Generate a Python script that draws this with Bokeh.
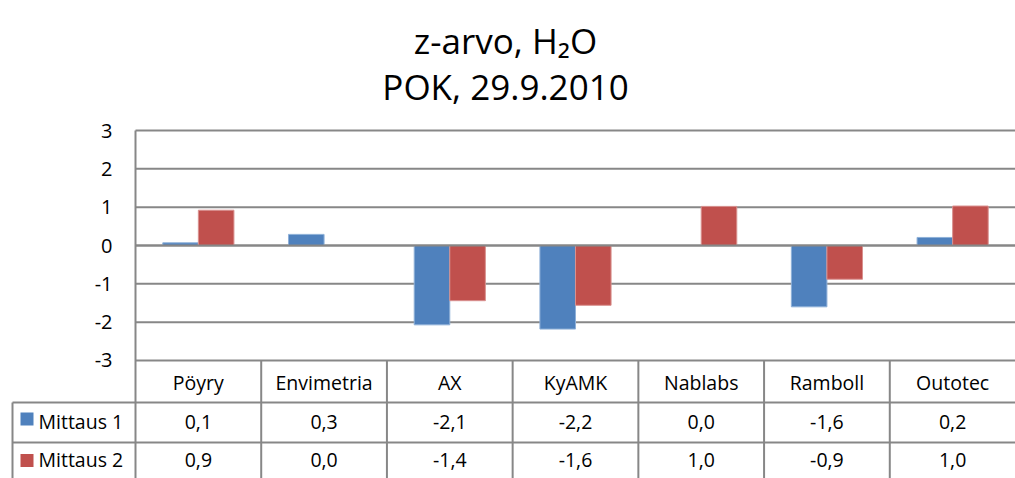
from bokeh.plotting import figure
from bokeh.models import ColumnDataSource, Range1d
from bokeh.core.properties import value
from bokeh.embed import file_html
from bokeh.resources import INLINE
import numpy as np

# ---- data ----
categories = ["Pöyry", "Envimetria", "AX", "KyAMK", "Nablabs", "Ramboll", "Outotec"]
mittaus1 = [0.07, 0.29, -2.07, -2.18, 0.0, -1.6, 0.21]
mittaus2 = [0.92, 0.0, -1.44, -1.56, 1.02, -0.88, 1.03]
series_names = ["Mittaus 1", "Mittaus 2"]
y_ticks = [3, 2, 1, 0, -1, -2, -3]
title_lines = ["z-arvo, H\u2082O", "POK, 29.9.2010"]

# ---- styling / layout ----
BLUE = "#4F81BD"
RED = "#C0504D"
GRID = "#878787"
FONT = value("Open Sans")

W, H = 1015, 478
PX_X = 125.714          # pixels per category
PX_Y = 38.333           # pixels per unit
X0_PAGE, Y0_PAGE = 135, 245   # page position of x=0, y=0

def xd(px):
    return (px - X0_PAGE) / PX_X

def yd(py):
    return (Y0_PAGE - py) / PX_Y

p = figure(width=W, height=H, output_backend="svg", toolbar_location=None,
           x_range=Range1d(xd(0), xd(W)), y_range=Range1d(yd(H), yd(0)),
           min_border=0)
p.axis.visible = False
p.grid.visible = False
p.outline_line_color = None
p.background_fill_color = "white"
p.border_fill_color = "white"

n = len(categories)
idx = np.arange(n)
ymin, ymax = min(y_ticks), max(y_ticks)

# gridlines
for t in y_ticks:
    p.line([0, n + 1], [t, t], line_color=GRID, line_width=2)

# bars
bw = 0.283
src = ColumnDataSource(dict(x1=idx + 0.5 - bw / 2, x2=idx + 0.5 + bw / 2,
                            m1=mittaus1, m2=mittaus2))
p.vbar(x="x1", top="m1", bottom=0, width=bw, source=src,
       fill_color=BLUE, line_color="#8EB0D8", line_width=1)
p.vbar(x="x2", top="m2", bottom=0, width=bw, source=src,
       fill_color=RED, line_color="#D9918F", line_width=1)

# redraw zero line over bars
p.line([0, n + 1], [0, 0], line_color=GRID, line_width=2)

# table geometry
row1_top = ymin
row2_top = yd(402)
row3_top = yd(442)
tbl_bottom = yd(H + 20)
legend_left = xd(12)

# vertical lines
p.segment(x0=[0], y0=[ymax], x1=[0], y1=[tbl_bottom], line_color=GRID, line_width=2)
p.segment(x0=list(idx[1:]), y0=[row1_top] * (n - 1), x1=list(idx[1:]),
          y1=[tbl_bottom] * (n - 1), line_color=GRID, line_width=2)
p.segment(x0=[legend_left], y0=[row2_top], x1=[legend_left], y1=[tbl_bottom],
          line_color=GRID, line_width=2)
# horizontal lines
p.segment(x0=[legend_left, legend_left], y0=[row2_top, row3_top],
          x1=[n + 1, n + 1], y1=[row2_top, row3_top], line_color=GRID, line_width=2)

# y tick labels
p.text(x=[xd(112)] * len(y_ticks), y=y_ticks, text=[str(t) for t in y_ticks],
       text_font=FONT, text_font_size="20px", text_align="right",
       text_baseline="middle", text_color="#000000")

# header row
y_head = yd(382)
y_r1 = yd(421)
y_r2 = yd(459)
p.text(x=list(idx + 0.5), y=[y_head] * n, text=categories, text_font=FONT,
       text_font_size="19.5px", text_align="center", text_baseline="middle",
       text_color="#000000")

def fmt(v):
    return f"{v:.1f}".replace(".", ",")

p.text(x=list(idx + 0.5), y=[y_r1] * n, text=[fmt(v) for v in mittaus1],
       text_font=FONT, text_font_size="19.5px", text_align="center",
       text_baseline="middle", text_color="#000000")
p.text(x=list(idx + 0.5), y=[y_r2] * n, text=[fmt(v) for v in mittaus2],
       text_font=FONT, text_font_size="19.5px", text_align="center",
       text_baseline="middle", text_color="#000000")

# legend keys
p.scatter(x=[xd(26.5)] * 2, y=[yd(418.5), yd(460)], marker="square", size=13,
          fill_color=[BLUE, RED], line_color=None)
p.text(x=[xd(38)] * 2, y=[y_r1, y_r2], text=series_names, text_font=FONT,
       text_font_size="19.5px", text_align="left", text_baseline="middle",
       text_color="#000000")

# title
p.text(x=[xd(505)] * 2, y=[yd(40), yd(86)], text=title_lines, text_font=FONT,
       text_font_size="35px", text_align="center", text_baseline="alphabetic",
       text_color="#000000")

open("out.html", "w").write(file_html(p, INLINE))
